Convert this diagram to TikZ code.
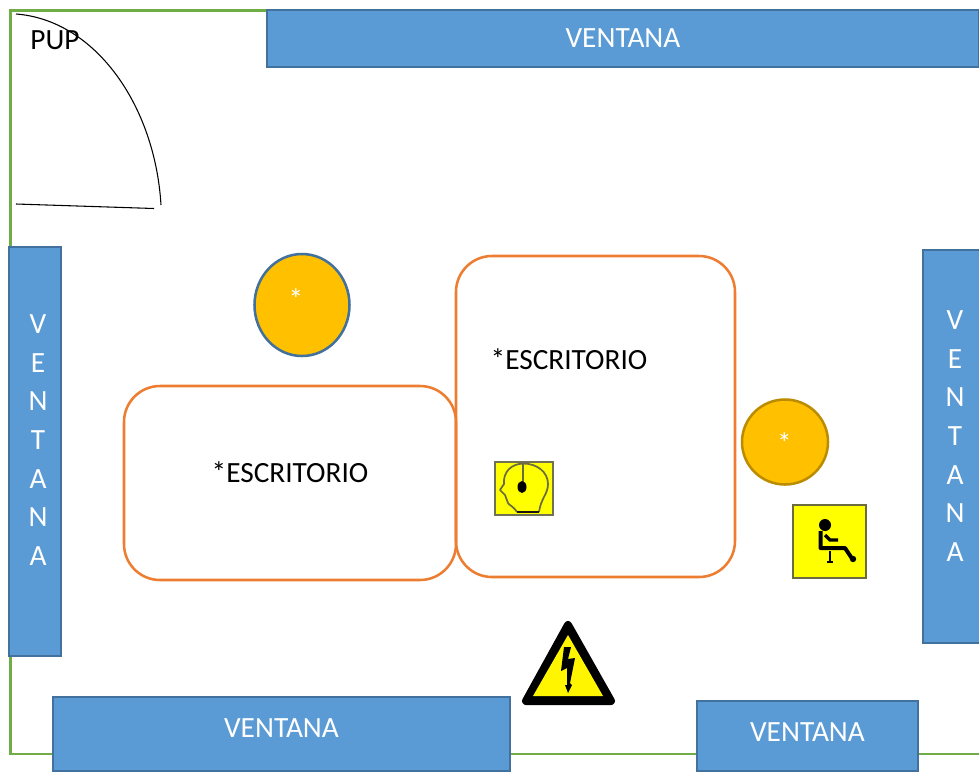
\documentclass[tikz,border=0pt]{standalone}
\usepackage{fontspec}
\usetikzlibrary{shapes.geometric}
\setmainfont{Carlito}
\definecolor{winfill}{HTML}{5B9BD5}
\definecolor{winedge}{HTML}{41719C}
\definecolor{wall}{HTML}{70AD47}
\definecolor{desk}{HTML}{ED7D31}
\definecolor{amber}{HTML}{FFC000}
\definecolor{signy}{HTML}{FFFF00}
\definecolor{signe}{HTML}{6B6B40}
\definecolor{amberedge}{HTML}{BC8C00}
\tikzset{
  x=0.75pt,y=-0.75pt,
  lbl/.style={font=\fontsize{22}{26}\selectfont,inner sep=0pt},
  win/.style={draw=winedge,fill=winfill,line width=1.9pt,outer sep=0pt,text=white,font=\fontsize{22}{26}\selectfont,inner sep=0pt},
  deskbox/.style={draw=desk,line width=1.9pt,outer sep=0pt,rounded corners=27pt,inner sep=0pt},
  stool/.style={ellipse,line width=1.9pt,outer sep=0pt,inner sep=0pt},
  aster/.style={text=white,font=\fontsize{22}{26}\selectfont,inner sep=0pt},
  door/.style={draw=black,line width=0.8pt},
}
\newcommand{\boxat}[6]{\node[#1,anchor=north west,minimum width=#4*0.75pt,minimum height=#5*0.75pt] (#2) at #3 {#6};}
\begin{document}
\begin{tikzpicture}
\useasboundingbox (0,0) rectangle (979,772);
\fill[white] (0,0) rectangle (979,772);
% walls
\coordinate (wa) at (985,10.5);
\coordinate (wb) at (10.5,10.5);
\coordinate (wc) at (10.5,754);
\coordinate (wd) at (985,754);
\draw[wall,line width=2.2pt] (wa) -- (wb) -- (wc) -- (wd);
% door
\coordinate (da) at (16,14);
\coordinate (db) at (161,205);
\coordinate (dc) at (16,204);
\coordinate (dd) at (154,208.5);
\draw[door] (da) .. controls (95,20) and (155,105) .. (db);
\draw[door] (dc) -- (dd);
\node[lbl,anchor=center] (pup) at (55,40) {PUP};
% windows
\boxat{win}{wtop}{(267,10)}{712}{57}{\raisebox{-0.7pt}{VENTANA}}
\boxat{win}{wbl}{(53,697)}{457}{74}{\raisebox{9.5pt}{VENTANA}}
\boxat{win}{wbr}{(697,701)}{221}{70}{\raisebox{5.2pt}{VENTANA}}
\boxat{win}{wleft}{(9,247)}{52}{409}{}
\boxat{win}{wright}{(923,250)}{58}{393}{}
\foreach \c [count=\i from 0] in {V,E,N,T,A,N,A}{
  \node[lbl,text=white] (lv\i) at (38,{324+\i*38.7}) {\c};
  \node[lbl,text=white] (rv\i) at (955,{320+\i*38.7}) {\c};
}
% desks
\boxat{deskbox}{deskb}{(124,386)}{332}{194}{}
\boxat{deskbox}{deska}{(456,256)}{279}{321}{}
\node[lbl] (ta) at (569,359) {*ESCRITORIO};
\node[lbl] (tb) at (290,472) {*ESCRITORIO};
% stools
\node[stool,draw=winedge,fill=amber,minimum width=95*0.75pt,minimum height=102*0.75pt] (s1) at (302,305) {};
\node[aster] (s1t) at (296,299) {*};
\node[stool,draw=amberedge,fill=amber,minimum width=86*0.75pt,minimum height=85*0.75pt] (s2) at (785,442) {};
\node[aster] (s2t) at (784.5,443) {*};
% head sign
\begin{scope}
\fill[signy] (495,462) rectangle (553,515);
\draw[signe!70!gray,line width=0.9pt] (495,462) rectangle (553,515);
\draw[signe,line width=1.3pt,line join=round] (517,512) .. controls (513,506) and (509,505) .. (508,503)
  -- (505,495) -- (500,490) -- (504,484) .. controls (503,472) and (511,464) .. (523,463.5)
  .. controls (537,463.5) and (548,472) .. (548,484) .. controls (548,494) and (541,498) .. (539,512);
\draw[black!80!signe,line width=1.2pt] (517,512) -- (539,512);
\draw[signe,line width=1.3pt] (523,463) -- (523,482);
\fill[black] (522,487) ellipse (4.5 and 6);
\end{scope}
% sitting sign
\begin{scope}
\fill[signy] (792.5,505) rectangle (865.5,578);
\draw[signe,line width=1.5pt] (792.5,505) rectangle (865.5,578);
\fill[black] (825,525) circle (6);
\draw[black,line width=3pt,line join=round] (820.5,531) -- (820.5,548) -- (845,548) -- (852,558.5);
\draw[black,line width=2.4pt] (825,535) -- (830,540) -- (838,540);
\draw[black,line width=1.4pt] (830,551) -- (830,562);
\draw[black,line width=1.4pt] (827,562) -- (833,562);
\fill[black] (853,559) circle (3.2);
\end{scope}
% hazard sign
\fill[black,draw=black,line width=6pt,line join=round] (568,625) -- (526,701) -- (611,701) -- cycle;
\fill[signy!92!orange] (568,635) -- (533,696) -- (603,696) -- cycle;
\fill[black] (564,647) -- (571,647) -- (568,659) -- (575,658) -- (570,683) -- (572,685) -- (568,693) -- (565,685) -- (567,685) -- (567,668) -- (561,671) -- cycle;
\end{tikzpicture}
\end{document}
